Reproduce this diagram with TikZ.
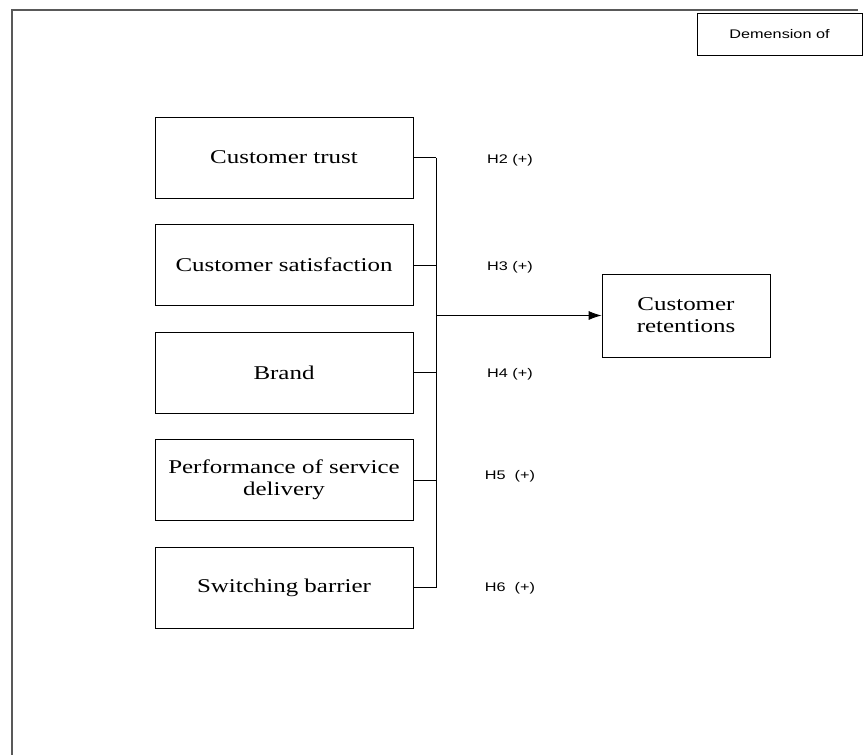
\documentclass[tikz,border=0pt]{standalone}
\usepackage{fontspec}
\setmainfont{Liberation Serif}[FakeStretch=1.28]
\newfontfamily\hypfont{Liberation Sans}[FakeStretch=1.3]
\usetikzlibrary{arrows.meta}
\usetikzlibrary{positioning}
\tikzset{factor/.style = {draw, line width = 0.8pt, minimum width = 258pt,
                          minimum height = 81pt, inner sep = 0, align = center,
                          font = \fontsize{19.5}{22}\selectfont}}
\tikzset{hyp/.style = {font = \hypfont\fontsize{12.5}{14}\selectfont, inner sep = 0}}
\tikzset{link/.style = {line width = 0.8pt}}
\definecolor{mframe}{rgb}{0.35, 0.35, 0.35}

\begin{document}
\begin{tikzpicture}[x=1pt, y=-1pt, node distance = 25.7pt]
    \useasboundingbox (0, 0) rectangle (865, 755);
    \draw [mframe, line width = 1.2pt] (12, 755) -- (12, 10) -- (858, 10);
    \node [factor, minimum width = 165pt, minimum height = 42pt,
           font = \hypfont\fontsize{12.5}{14}\selectfont] (dim) at (779.5, 34) {Demension of};
    % independent factors
    \node [factor] (trust) at (284, 157.5) {Customer trust};
    \node [factor, below = of trust] (satis) {Customer satisfaction};
    \node [factor, below = of satis] (brand) {Brand};
    \node [factor, below = of brand] (perf) {Performance of service\\delivery};
    \node [factor, below = of perf] (switch) {Switching barrier};
    \node [factor, minimum width = 168pt, minimum height = 83pt] (ret) at (686, 315.5) {Customer\\retentions};
    % bus
    \coordinate (bus) at (436, 0);
    \foreach \f in {trust, satis, brand, perf, switch} {
      \draw [link] (\f.east) -- (\f.east -| bus);
    }
    \draw [link] (trust.east -| bus) -- (switch.east -| bus);
    \draw [link, -{Latex[length=13pt, width=9pt]}] (ret.west -| bus) -- (ret.west);
    % hypotheses
    \node [hyp] (h2) at (510, 160) {H2 (+)};
    \node [hyp] (h3) at (510, 267) {H3 (+)};
    \node [hyp] (h4) at (510, 374) {H4 (+)};
    \node [hyp] (h5) at (510, 476) {H5\ \ (+)};
    \node [hyp] (h6) at (510, 588) {H6\ \ (+)};
\end{tikzpicture}
\end{document}
